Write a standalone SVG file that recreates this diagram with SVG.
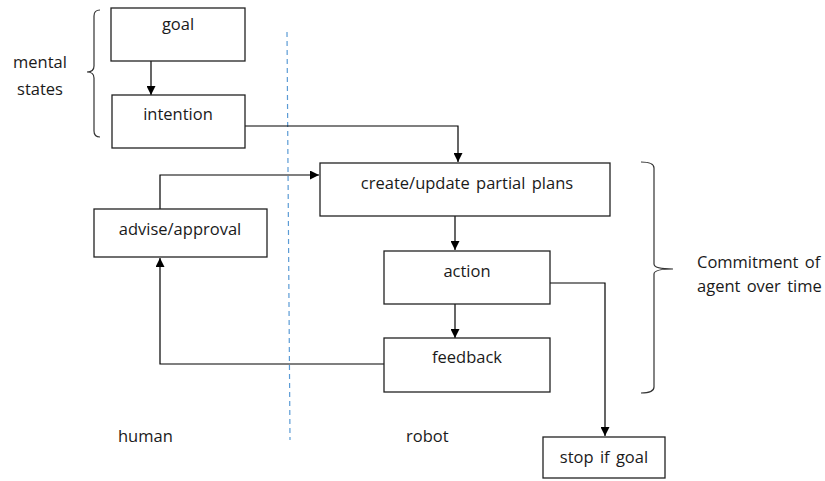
<svg xmlns="http://www.w3.org/2000/svg" width="825" height="481" viewBox="0 0 825 481">
  <defs>
    <marker id="arrow" viewBox="0 0 10 10" refX="10" refY="5" markerWidth="9" markerHeight="9" markerUnits="userSpaceOnUse" orient="auto">
      <path d="M0,0 L10,5 L0,10 z" fill="#000"/>
    </marker>
    <style>
      .box { fill: #fff; stroke: #222; stroke-width: 1.3; }
      .lbl { font-family: "Open Sans", "Liberation Sans", sans-serif; font-size: 16.5px; fill: #1a1a1a; word-spacing: 2px; }
      .mid { text-anchor: middle; }
      .edge { fill: none; stroke: #000; stroke-width: 1.2; }
      .brace { fill: none; stroke: #333; stroke-width: 1.2; }
    </style>
  </defs>
  <rect width="825" height="481" fill="#fff"/>

  <!-- human / robot divider -->
  <line x1="287" y1="32" x2="290" y2="440" stroke="#5b9bd5" stroke-width="1.2" stroke-dasharray="5,4"/>

  <g id="connectors">
    <path class="edge" d="M151,61 V95" marker-end="url(#arrow)"/>
    <path class="edge" d="M245,126 H458 V162" marker-end="url(#arrow)"/>
    <path class="edge" d="M160,209 V175 H319" marker-end="url(#arrow)"/>
    <path class="edge" d="M455,216 V250" marker-end="url(#arrow)"/>
    <path class="edge" d="M455,304 V338" marker-end="url(#arrow)"/>
    <path class="edge" d="M384,364 H160 V258" marker-end="url(#arrow)"/>
    <path class="edge" d="M550,283 H605 V436" marker-end="url(#arrow)"/>
  </g>

  <g id="goal">
    <rect class="box" x="111" y="8" width="134" height="53"/>
    <text class="lbl mid" x="178" y="30">goal</text>
  </g>
  <g id="intention">
    <rect class="box" x="112" y="95" width="133" height="53"/>
    <text class="lbl mid" x="178" y="120">intention</text>
  </g>
  <g id="create">
    <rect class="box" x="320" y="163" width="290" height="53"/>
    <text class="lbl mid" x="467" y="189">create/update partial plans</text>
  </g>
  <g id="advise">
    <rect class="box" x="94" y="209" width="173" height="48"/>
    <text class="lbl mid" x="180" y="235">advise/approval</text>
  </g>
  <g id="action">
    <rect class="box" x="384" y="251" width="166" height="53"/>
    <text class="lbl mid" x="467" y="277">action</text>
  </g>
  <g id="feedback">
    <rect class="box" x="384" y="338" width="166" height="54"/>
    <text class="lbl mid" x="467" y="363">feedback</text>
  </g>
  <g id="stop">
    <rect class="box" x="543" y="437" width="122" height="41"/>
    <text class="lbl mid" x="604" y="463">stop if goal</text>
  </g>

  <g id="mental-states">
    <path class="brace" d="M100,10 Q94,10 94,16 V66 Q94,72 87,72 Q94,72 94,78 V131 Q94,137 100,137"/>
    <text class="lbl mid" x="40" y="68">mental</text>
    <text class="lbl mid" x="40" y="95">states</text>
  </g>

  <g id="commitment">
    <path class="brace" d="M641,162 Q654,162 654,168 V264 Q654,269 673,269 Q654,269 654,274 V387 Q654,393 641,393"/>
    <text class="lbl" x="697" y="268">Commitment of</text>
    <text class="lbl" x="697" y="292">agent over time</text>
  </g>

  <text class="lbl" x="118" y="442">human</text>
  <text class="lbl" x="406" y="442">robot</text>
</svg>
